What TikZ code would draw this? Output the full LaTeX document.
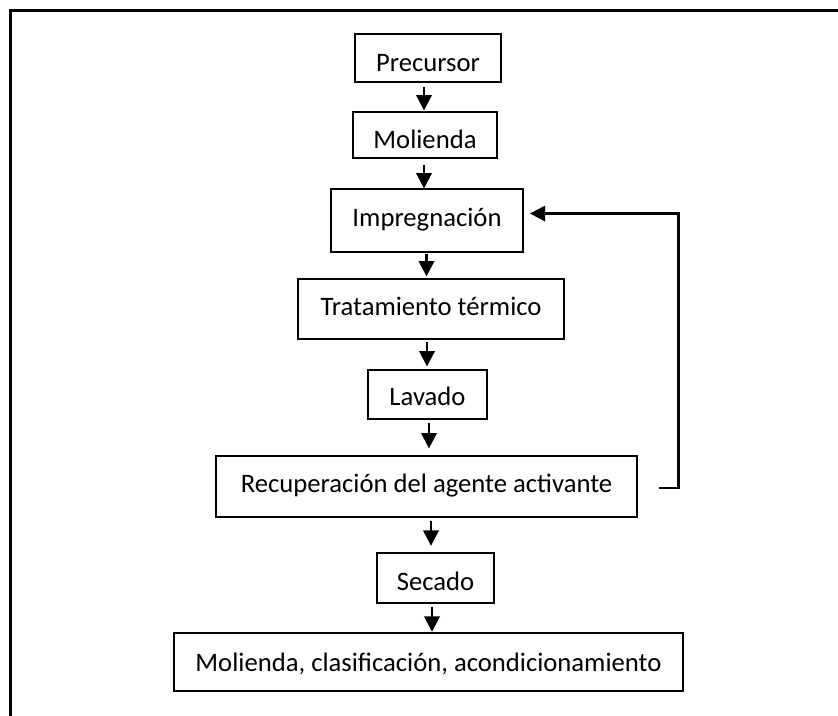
\documentclass[tikz,border=0pt]{standalone}
\usepackage{fontspec}
\setmainfont{Carlito}
\usetikzlibrary{arrows.meta,calc}
\begin{document}
\begin{tikzpicture}[x=0.75pt,y=-0.75pt,
  stepbox/.style={draw=black,line width=0.9pt,inner sep=0pt,rectangle},
  txt/.style={anchor=base,inner sep=0pt,font=\fontsize{20}{24}\selectfont},
  arr/.style={line width=1.9pt,-{Triangle[length=11.5pt,width=11.5pt]}},
  frameline/.style={line width=2.2pt}]
\useasboundingbox (0,0) rectangle (838,715);
\draw[frameline] (10.5,720) -- (10.5,10.3) -- (845,10.3);

% boxes
\node[stepbox,minimum width=109.5pt,minimum height=36pt]    (prec) at (428,58) {};
\node[stepbox,minimum width=108pt,minimum height=34.5pt]    (mol)  at (425,135) {};
\node[stepbox,minimum width=144pt,minimum height=47.25pt]   (imp)  at (427,220.5) {};
\node[stepbox,minimum width=199.5pt,minimum height=45pt]    (trat) at (431,309) {};
\node[stepbox,minimum width=89.25pt,minimum height=36.75pt] (lav)  at (427.5,394.5) {};
\node[stepbox,minimum width=315.75pt,minimum height=45.75pt](rec)  at (426.5,486.5) {};
\node[stepbox,minimum width=87.75pt,minimum height=37.5pt]  (sec)  at (435.5,578) {};
\node[stepbox,minimum width=381.75pt,minimum height=43.5pt] (fin)  at (428.5,662) {};

% texts
\node[txt] (precT) at (428,71.7)  {Precursor};
\node[txt] (molT)  at (425,148.3) {Molienda};
\node[txt] (impT)  at (427,226)   {Impregnación};
\node[txt] (tratT) at (431,315)   {Tratamiento térmico};
\node[txt] (lavT)  at (427.5,405.7) {Lavado};
\node[txt] (recT)  at (426.5,492.3) {Recuperación del agente activante};
\node[txt] (secT)  at (435.5,590.7) {Secado};
\node[txt] (finT)  at (428.5,671) {Molienda, clasificación, acondicionamiento};

% vertical arrows
\coordinate (a1) at ([shift={(-4,4.5)}]prec.south);
\coordinate (a2) at ([shift={(-1,6)}]mol.south);
\coordinate (a3) at ([shift={(-0.5,1)}]imp.south);
\coordinate (a4) at ([shift={(-4,2.7)}]trat.south);
\coordinate (a5) at ([shift={(1.5,3.7)}]lav.south);
\coordinate (a6) at ([shift={(4.5,3)}]rec.south);
\coordinate (a7) at ([shift={(-3.5,3)}]sec.south);
\draw[arr] (a1) -- ($(a1 |- mol.north)+(0,-1)$);
\draw[arr] (a2) -- (a2 |- imp.north);
\draw[arr] (a3) -- ($(a3 |- trat.north)+(0,-2)$);
\draw[arr] (a4) -- ($(a4 |- lav.north)+(0,-3)$);
\draw[arr] (a5) -- ($(a5 |- rec.north)+(0,-7)$);
\draw[arr] (a6) -- ($(a6 |- sec.north)+(0,-6.6)$);
\draw[arr] (a7) -- ($(a7 |- fin.north)+(0,-0.6)$);

% feedback
\coordinate (fbs) at ([shift={(21,1.5)}]rec.east);
\coordinate (fbe) at ([shift={(6.3,-7)}]imp.east);
\draw[arr] (fbs) -- ++(19.7,0) |- (fbe);
\end{tikzpicture}
\end{document}
